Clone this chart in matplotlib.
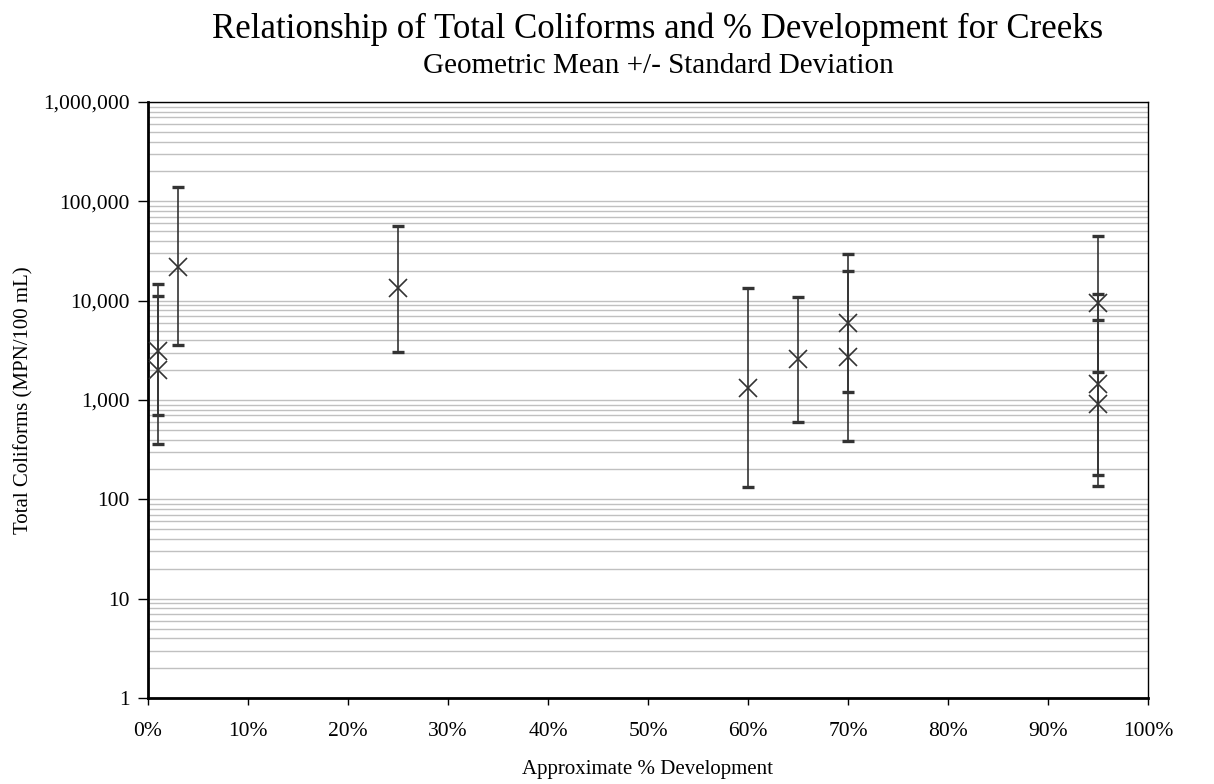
import matplotlib
matplotlib.use("Agg")
import matplotlib.pyplot as plt
from matplotlib.ticker import FuncFormatter, LogLocator, NullFormatter
import numpy as np

# data (geometric mean, upper and lower of +/- std dev)
development = [1, 1, 3, 25, 60, 65, 70, 70, 95, 95, 95]
geo_mean = [3100, 2000, 21800, 13400, 1320, 2590, 5960, 2710, 9400, 1450, 920]
upper = [14700, 11100, 139000, 56500, 13400, 10900, 29500, 19900, 44500, 11800, 6400]
lower = [700, 360, 3580, 3040, 133, 600, 1200, 386, 1910, 176, 137]

x_ticks = list(range(0, 101, 10))
y_ticks = [1, 10, 100, 1000, 10000, 100000, 1000000]

plt.rcParams['font.family'] = ['Liberation Serif', 'DejaVu Serif']

fig = plt.figure(figsize=(12.14, 7.84), dpi=100)
ax = fig.add_axes([148/1214, 1-698/784, 1000/1214, 596/784])

gm = np.array(geo_mean)
err = [gm - np.array(lower), np.array(upper) - gm]
ax.errorbar(development, geo_mean, yerr=err, fmt='none', ecolor='#333333',
            elinewidth=1.2, capsize=4, capthick=2.4, zorder=3)
ax.plot(development, geo_mean, linestyle='none', marker='x', markersize=13,
        markeredgewidth=1.2, color='#333333', zorder=4)

ax.set_yscale('log')
ax.set_ylim(1, 1000000)
ax.set_xlim(0, 100)
ax.set_xticks(x_ticks)
ax.set_xticklabels([f'{t}%' for t in x_ticks])
ax.set_yticks(y_ticks)
ax.yaxis.set_major_formatter(FuncFormatter(lambda v, p: f'{int(round(v)):,}'))
ax.yaxis.set_minor_locator(LogLocator(base=10, subs=np.arange(2, 10)))
ax.yaxis.set_minor_formatter(NullFormatter())
ax.tick_params(axis='y', which='minor', length=0)
ax.tick_params(axis='y', which='major', labelsize=15.5, length=7, width=1,
               pad=6, direction='out', colors='black')
ax.tick_params(axis='x', which='major', labelsize=15.5, length=5, width=1,
               pad=12, direction='out', colors='black')
ax.grid(True, which='both', axis='y', color='#c0c0c0', linewidth=1)
ax.set_axisbelow(True)

ax.spines['left'].set_linewidth(2)
ax.spines['bottom'].set_linewidth(2)
ax.spines['top'].set_linewidth(1)
ax.spines['right'].set_linewidth(1)

ax.set_xlabel('Approximate % Development', fontsize=15, labelpad=14)
ax.set_ylabel('Total Coliforms (MPN/100 mL)', fontsize=15, labelpad=7)

fig.text(0.542, 1-38/784, 'Relationship of Total Coliforms and % Development for Creeks',
         ha='center', va='baseline', fontsize=25)
fig.text(0.542, 1-73/784, 'Geometric Mean +/- Standard Deviation',
         ha='center', va='baseline', fontsize=21)

fig.savefig('out.png', dpi=100)
